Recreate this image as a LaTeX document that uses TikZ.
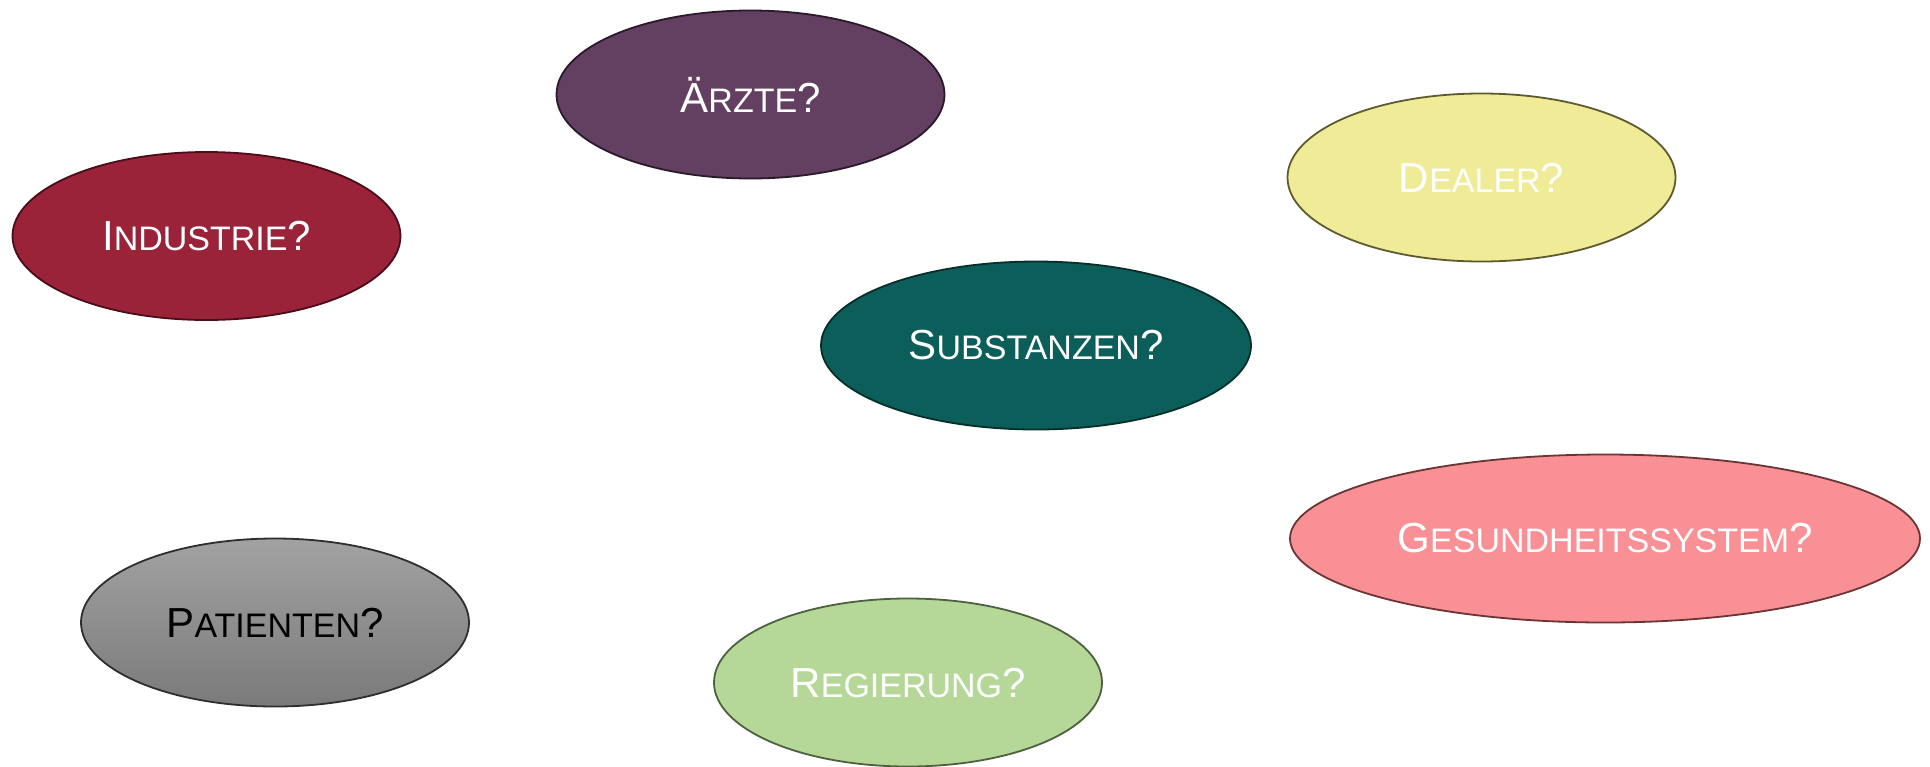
\documentclass[tikz,border=0pt]{standalone}
\usepackage{fontspec}
\setmainfont{Liberation Sans}
\usepackage{xcolor}
\usetikzlibrary{shapes.geometric}

\definecolor{aerztefill}{HTML}{633F61}
\definecolor{aerztedraw}{HTML}{2B1A2A}
\definecolor{industriefill}{HTML}{9A2239}
\definecolor{industriedraw}{HTML}{4A0E1A}
\definecolor{dealerfill}{HTML}{F0EB96}
\definecolor{dealerdraw}{HTML}{5E5A30}
\definecolor{substanzfill}{HTML}{0B5E59}
\definecolor{substanzdraw}{HTML}{062E2B}
\definecolor{gesundfill}{HTML}{F99095}
\definecolor{gesunddraw}{HTML}{6A3535}
\definecolor{patienttop}{HTML}{A2A2A2}
\definecolor{patientbot}{HTML}{7A7A7A}
\definecolor{patientdraw}{HTML}{2E2E2E}
\definecolor{regierungfill}{HTML}{B5D797}
\definecolor{regierungdraw}{HTML}{4D6140}

\newcommand{\kap}[2]{{\fontsize{21pt}{21pt}\selectfont #1}{\fontsize{17pt}{17pt}\selectfont #2}{\fontsize{21pt}{21pt}\selectfont ?}}

\tikzstyle{blob} = [ellipse, draw, line width=0.9pt, inner sep=0pt, minimum width=194pt, minimum height=84pt, text=white]

\begin{document}
\begin{tikzpicture}[x=0.5pt,y=-0.5pt]

\useasboundingbox (0,0) rectangle (1930,766);

%one ellipse per question, centres in pixels of the sketch
\node[blob, fill=aerztefill, draw=aerztedraw] (aerzte) at (750.5,94.5) {\kap{Ä}{RZTE}};
\node[blob, fill=industriefill, draw=industriedraw] (industrie) at (206.5,236) {\kap{I}{NDUSTRIE}};
\node[blob, fill=dealerfill, draw=dealerdraw] (dealer) at (1481.5,177.5) {\kap{D}{EALER}};
\node[blob, fill=substanzfill, draw=substanzdraw, minimum width=215pt] (substanzen) at (1036,345.5) {\kap{S}{UBSTANZEN}};
\node[blob, fill=gesundfill, draw=gesunddraw, minimum width=315pt] (gesundheit) at (1605,538.5) {\kap{G}{ESUNDHEITSSYSTEM}};
\node[blob, top color=patienttop, bottom color=patientbot, draw=patientdraw, text=black] (patienten) at (275,622.5) {\kap{P}{ATIENTEN}};
\node[blob, fill=regierungfill, draw=regierungdraw] (regierung) at (908,682.5) {\kap{R}{EGIERUNG}};

\end{tikzpicture}
\end{document}
